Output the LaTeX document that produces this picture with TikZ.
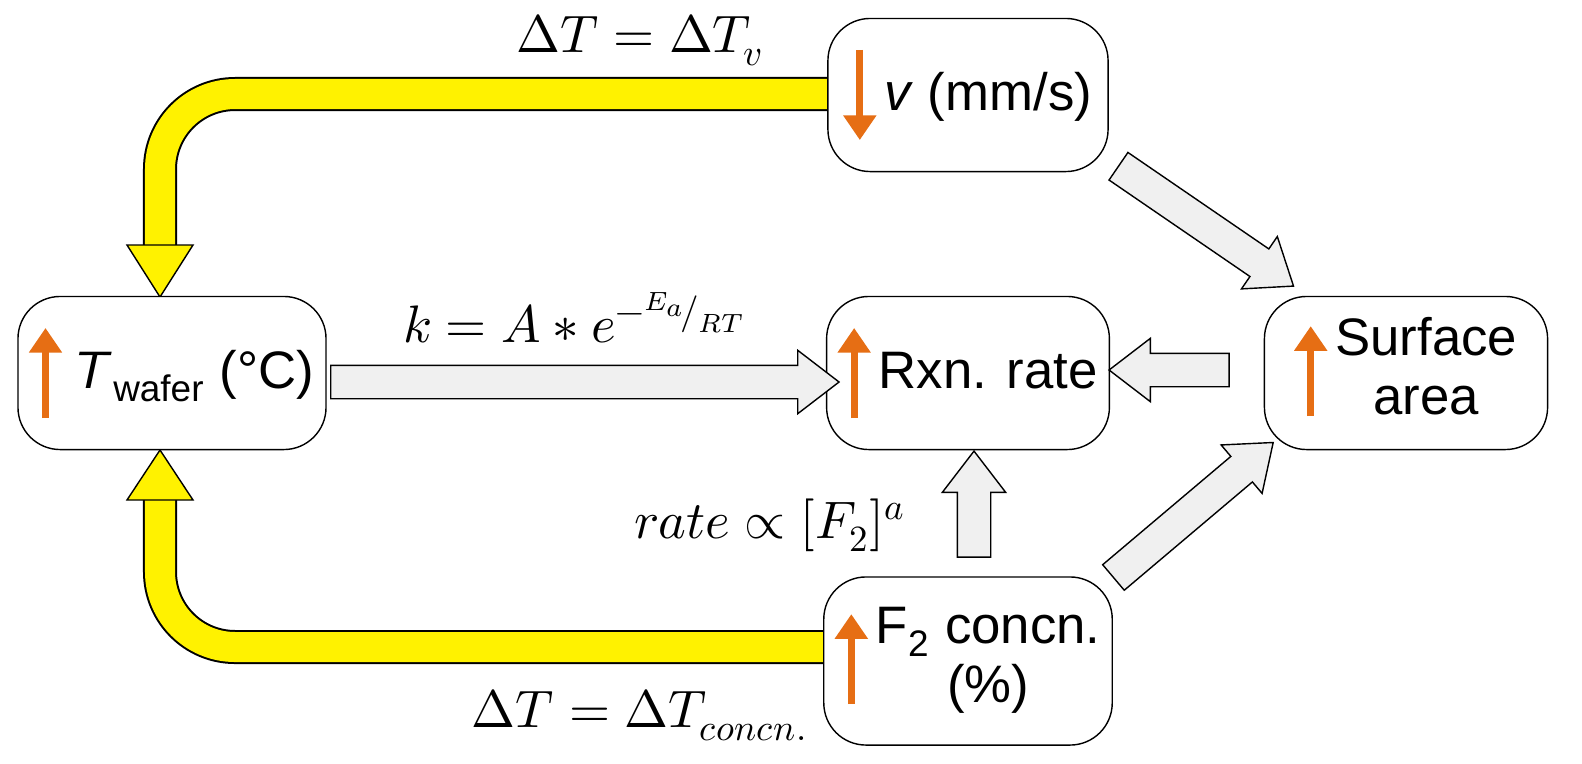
\documentclass[tikz,border=0pt]{standalone}
\usepackage{fontspec}
\setmainfont{Liberation Sans}
\usepackage{unicode-math}
\setmathfont{Latin Modern Math}
\usetikzlibrary{arrows.meta,positioning,shapes.arrows,calc}
\definecolor{arrorange}{RGB}{230,110,20}
\definecolor{fatgray}{RGB}{240,240,240}
\newcommand{\upa}{\tikz[baseline=0pt,x=1cm,y=1cm]\draw[arrorange,line width=2pt,-{Triangle[length=7pt,width=9pt]}] (0,-0.3) -- (0,0.6);}
\newcommand{\downa}{\tikz[baseline=0pt,x=1cm,y=1cm]\draw[arrorange,line width=2pt,-{Triangle[length=7pt,width=9pt]}] (0,0.6) -- (0,-0.3);}
\begin{document}
\begin{tikzpicture}[x=0.01cm,y=-0.01cm,
    box/.style={draw, rounded corners=12pt, fill=white, minimum width=2.9cm, minimum height=1.53cm, align=center, font=\fontsize{15}{17}\selectfont},
    fat/.style={single arrow, draw, fill=fatgray, inner sep=0pt, text height=0.32cm, text depth=0pt, single arrow head extend=0.15cm, single arrow tip angle=75},
    lbl/.style={font=\fontsize{15}{17}\selectfont}
]
\useasboundingbox (0,0) rectangle (1582,763);

% yellow feedback arrows
\coordinate (tc) at (160,245);
\coordinate (bc) at (160,500);
\draw[line width=0.34cm, black, rounded corners=0.75cm] (828,94) -- (160,94) -- (tc);
\draw[line width=0.30cm, yellow, rounded corners=0.75cm] (830,94) -- (160,94) -- ($(tc)+(0,1)$);
\draw[fill=yellow] (127,245) -- (193,245) -- (160,297) -- cycle;
\draw[line width=0.34cm, black, rounded corners=0.75cm] (828,647) -- (160,647) -- (bc);
\draw[line width=0.30cm, yellow, rounded corners=0.75cm] (830,647) -- (160,647) -- ($(bc)+(0,-1)$);
\draw[fill=yellow] (127,500) -- (193,500) -- (160,450) -- cycle;

% boxes
\node[box, minimum width=2.95cm] (T) at (172,373) {\upa\,$\mathsfit{T}$\textsubscript{wafer} (°C)};
\node[box, minimum width=2.8cm] (v) at (968,95) {\downa\,\textit{v} (mm/s)};
\node[box, minimum width=2.8cm] (R) at (968,373) {\upa\,Rxn. rate};
\node[box, minimum width=2.83cm] (S) at (1406,373) {\upa\,\begin{tabular}{@{}c@{}}Surface\\area\end{tabular}};
\node[box, minimum width=2.8cm, minimum height=1.68cm] (F) at (968,661) {\upa\,\begin{tabular}{@{}c@{}}F\textsubscript{2} concn.\\(\%)\end{tabular}};

% gray arrows
\node[fat, minimum height=5.08cm] (TR) at (574,382) {};
\node[fat, minimum height=1.2cm, rotate=180] (SR) at (1180,370) {};
\node[fat, minimum height=1.06cm, rotate=90] (FR) at (974,515) {};
\node[fat, minimum height=2.12cm, rotate=-34.4] (vS) at (1197,220) {};
\node[fat, minimum height=2.09cm, rotate=40.2] (FS) at (1185,517) {};

% labels
\node[lbl] (l1) at (640,40) {$\Delta T=\Delta T_{v}$};
\node[lbl] (l2) at (575,318) {$k=A*e^{-{}^{E_a}\!/_{RT}}$};
\node[lbl] (l3) at (770,525) {$rate\propto[F_2]^{a}$};
\node[lbl] (l4) at (640,715) {$\Delta T=\Delta T_{concn.}$};
\end{tikzpicture}
\end{document}
